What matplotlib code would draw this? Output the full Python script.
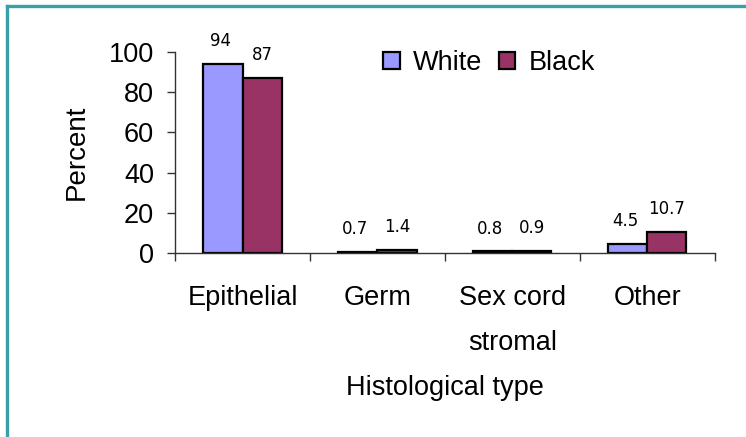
import matplotlib
matplotlib.use('Agg')
import matplotlib.pyplot as plt
from matplotlib.lines import Line2D
import numpy as np

categories = ['Epithelial', 'Germ', 'Sex cord\nstromal', 'Other']
white_vals = [94, 0.7, 0.8, 4.5]
black_vals = [87, 1.4, 0.9, 10.7]
white_labels = ['94', '0.7', '0.8', '4.5']
black_labels = ['87', '1.4', '0.9', '10.7']

plt.rcParams['font.family'] = ['Liberation Sans', 'DejaVu Sans']
big = 19.5

fig = plt.figure(figsize=(7.46, 4.37), dpi=100)
ax = fig.add_axes([0.2346, 0.421, 0.7238, 0.46])

index = np.arange(len(categories)) + 0.5
bar_width = 0.289

ax.bar(index - bar_width / 2, white_vals, bar_width, color='#9999FF',
       edgecolor='black', linewidth=1.6, label='White')
ax.bar(index + bar_width / 2, black_vals, bar_width, color='#993366',
       edgecolor='black', linewidth=1.6, label='Black')

for x, v, t in zip(index - bar_width / 2, white_vals, white_labels):
    ax.annotate(t, (x, v), xytext=(-2, 10), textcoords='offset points',
                ha='center', va='bottom', fontsize=12, family='DejaVu Sans')
for x, v, t in zip(index + bar_width / 2, black_vals, black_labels):
    ax.annotate(t, (x, v), xytext=(0, 10), textcoords='offset points',
                ha='center', va='bottom', fontsize=12, family='DejaVu Sans')

ax.set_xlim(0, 4)
ax.set_ylim(0, 100)
ax.set_yticks([0, 20, 40, 60, 80, 100])
ax.set_xticks([0, 1, 2, 3, 4])
ax.set_xticklabels([])
ax.set_xticks(index, minor=True)
ax.set_xticklabels(categories, minor=True, fontsize=big)
for lbl in ax.get_xticklabels(minor=True):
    lbl.set_linespacing(1.95)
ax.tick_params(axis='x', which='minor', length=0, pad=23)
ax.tick_params(axis='x', which='major', length=6, width=1, color='#333333')
ax.tick_params(axis='y', length=6, width=1, color='#333333', labelsize=big, pad=9)

for s in ['top', 'right']:
    ax.spines[s].set_visible(False)
for s in ['left', 'bottom']:
    ax.spines[s].set_color('#333333')
    ax.spines[s].set_linewidth(1)

ax.set_ylabel('Percent', fontsize=20, labelpad=14)
ax.set_xlabel('Histological type', fontsize=big, labelpad=14)

ax.legend(loc='upper right', bbox_to_anchor=(0.823, 1.13), ncol=2, frameon=False,
          fontsize=big, handlelength=0.6, handleheight=0.6, handletextpad=0.5,
          columnspacing=0.6)

# teal frame (top and left edge only visible)
fig.add_artist(Line2D([0.009, 1.0], [0.986, 0.986], color='#3AA0A8',
                      linewidth=2.4, transform=fig.transFigure))
fig.add_artist(Line2D([0.0095, 0.0095], [0.0, 0.986], color='#3AA0A8',
                      linewidth=2.4, transform=fig.transFigure))

plt.savefig('out.png', dpi=100)
